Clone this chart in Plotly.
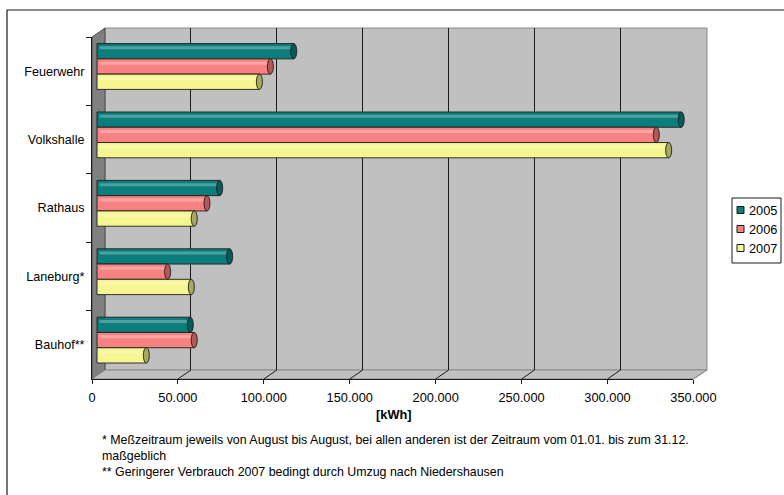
import plotly.graph_objects as go

# Energieverbrauch je Liegenschaft in kWh
categories = ["Feuerwehr", "Volkshalle", "Rathaus", "Laneburg*", "Bauhof**"]
years = ["2005", "2006", "2007"]
values_2005 = [114500, 340000, 71400, 77200, 54300]
values_2006 = [100900, 325500, 64000, 41100, 56600]
values_2007 = [94500, 332700, 56600, 54900, 28700]
series_values = [values_2005, values_2006, values_2007]

tick_vals = [0, 50000, 100000, 150000, 200000, 250000, 300000, 350000]
tick_text = ["0", "50.000", "100.000", "150.000", "200.000", "250.000", "300.000", "350.000"]

axis_title = "[kWh]"
footnotes = [
    "* Meßzeitraum jeweils von August bis August, bei allen anderen ist der Zeitraum vom 01.01. bis zum 31.12.",
    "maßgeblich",
    "** Geringerer Verbrauch 2007 bedingt durch Umzug nach Niedershausen",
]

fill_colors = ["#0b7d7d", "#f88282", "#f6f690"]
cap_colors = ["#045c5c", "#b45858", "#a8a860"]

W, H = 784, 495
FONT = "Liberation Sans, Arial, sans-serif"


def px(x):
    return x / W


def py(y):
    return 1 - y / H


# 3D frame geometry (pixels)
front_left, front_right, front_bottom, front_top = 92, 693.4, 379, 37
depth_dx, depth_dy = 13, 9
back_left, back_right = front_left + depth_dx, front_right + depth_dx + 0.6
back_top, back_bottom = front_top - depth_dy, front_bottom - depth_dy
vmax = 350000
kpx = (front_right - front_left) / vmax          # pixels per kWh
bar_shift_x, bar_shift_y = 5, 4.7                # bars sit half way into the depth
bar_origin = -bar_shift_x / kpx

bargap = 0.33
n_series = len(years)
bar_w = (1 - bargap) / n_series

fig = go.Figure()

# back wall subplot (gridlines only)
fig.add_trace(go.Scatter(x=[None], y=[None], xaxis="x", yaxis="y",
                         showlegend=False, hoverinfo="skip"))
# front axes subplot (tick labels / category labels)
fig.add_trace(go.Scatter(x=[None] * len(categories), y=categories, xaxis="x2", yaxis="y2",
                         mode="markers", marker=dict(opacity=0), showlegend=False,
                         hoverinfo="skip"))

shapes = []

# bars
for i, (name, vals) in enumerate(zip(years, series_values)):
    fig.add_trace(go.Bar(
        name=name, y=categories, x=vals, orientation="h",
        xaxis="x3", yaxis="y3",
        marker=dict(color=fill_colors[i], line=dict(color="#1e1e1e", width=0.9)),
        showlegend=False,
    ))
    cap_dx = 3 / kpx
    for j, v in enumerate(vals):
        yc = j - (1 - bargap) / 2 + (i + 0.5) * bar_w
        # light reflection along the cylinder
        shapes.append(dict(type="line", xref="x3", yref="y3",
                           x0=1500, x1=v - cap_dx, y0=yc - bar_w * 0.22, y1=yc - bar_w * 0.22,
                           line=dict(color="rgba(255,255,255,0.28)", width=3), layer="above"))
        # end cap of the cylinder
        shapes.append(dict(type="circle", xref="x3", yref="y3",
                           x0=v - cap_dx, x1=v + cap_dx, y0=yc - bar_w / 2, y1=yc + bar_w / 2,
                           fillcolor=cap_colors[i], line=dict(color="#1e1e1e", width=0.9),
                           layer="above"))

# outer chart border (left and top edges; the rest runs past the page)
shapes.append(dict(type="path", xref="paper", yref="paper",
                   path=f"M1,{py(10)} L{px(7)},{py(10)} L{px(7)},0",
                   line=dict(color="#1a1a1a", width=1.2), layer="below"))
# back wall
shapes.append(dict(type="rect", xref="paper", yref="paper",
                   x0=px(back_left), x1=px(back_right), y0=py(back_bottom), y1=py(back_top),
                   fillcolor="#c0c0c0", line=dict(color="#8a8a8a", width=1), layer="below"))
# side wall
shapes.append(dict(type="path", xref="paper", yref="paper",
                   path=f"M{px(front_left)},{py(front_top)} L{px(back_left)},{py(back_top)} "
                        f"L{px(back_left)},{py(back_bottom)} L{px(front_left)},{py(front_bottom)} Z",
                   fillcolor="#808080", line=dict(color="#3a3a3a", width=0.8), layer="below"))
# floor
shapes.append(dict(type="path", xref="paper", yref="paper",
                   path=f"M{px(front_left)},{py(front_bottom)} L{px(back_left)},{py(back_bottom)} "
                        f"L{px(back_right)},{py(back_bottom)} L{px(front_right)},{py(front_bottom)} Z",
                   fillcolor="#c0c0c0", line=dict(color="#8a8a8a", width=1), layer="below"))
# floor grid lines running into the depth
for tv in tick_vals[1:]:
    xf = front_left + tv * kpx
    col = "#8a8a8a" if tv == vmax else "#1a1a1a"
    shapes.append(dict(type="line", xref="paper", yref="paper",
                       x0=px(xf), y0=py(front_bottom), x1=px(xf + depth_dx), y1=py(back_bottom),
                       line=dict(color=col, width=1), layer="below"))

# legend box
leg_x0, leg_x1, leg_y0, leg_y1 = 732, 781, 198, 263
shapes.append(dict(type="rect", xref="paper", yref="paper",
                   x0=px(leg_x0), x1=px(leg_x1), y0=py(leg_y1), y1=py(leg_y0),
                   fillcolor="white", line=dict(color="#1a1a1a", width=1)))
annotations = []
for i, name in enumerate(years):
    yc = 210 + i * 19
    shapes.append(dict(type="rect", xref="paper", yref="paper",
                       x0=px(737), x1=px(744), y0=py(yc + 3.5), y1=py(yc - 3.5),
                       fillcolor=fill_colors[i], line=dict(color="#1a1a1a", width=1)))
    annotations.append(dict(text=name, xref="paper", yref="paper", x=px(746.5), y=py(yc),
                            xanchor="left", yanchor="middle", showarrow=False,
                            font=dict(size=12.8, color="black", family=FONT)))

annotations.append(dict(text=f"<b>{axis_title}</b>", xref="paper", yref="paper",
                        x=px(393.5), y=py(414), xanchor="center", yanchor="middle",
                        showarrow=False, font=dict(size=12.8, color="black", family=FONT)))
for k, line in enumerate(footnotes):
    annotations.append(dict(text=line, xref="paper", yref="paper",
                            x=px(99.5), y=py(440 + k * 15.8), xanchor="left", yanchor="middle",
                            showarrow=False, font=dict(size=12.4, color="black", family=FONT)))

fig.update_layout(
    width=W, height=H, autosize=False,
    margin=dict(l=0, r=0, t=0, b=0, pad=0),
    paper_bgcolor="white", plot_bgcolor="rgba(0,0,0,0)",
    font=dict(family=FONT, size=12, color="black"),
    separators=",.",
    barmode="group", bargap=bargap, bargroupgap=0,
    showlegend=False,
    shapes=shapes, annotations=annotations,
    # back wall gridlines
    xaxis=dict(domain=[px(back_left), px(back_left + vmax * kpx)], range=[0, vmax],
               tickvals=tick_vals[1:-1], showgrid=True, gridcolor="#1a1a1a", gridwidth=1,
               showticklabels=False, ticks="", zeroline=False, showline=False,
               anchor="y", fixedrange=True, automargin=False),
    yaxis=dict(domain=[py(back_bottom), py(back_top)], range=[0, 1], visible=False,
               anchor="x", fixedrange=True),
    # front axes
    xaxis2=dict(domain=[px(front_left), px(front_right)], range=[0, vmax],
                tickvals=tick_vals, ticktext=tick_text, ticks="outside", ticklen=4,
                tickcolor="#1a1a1a", showgrid=False, zeroline=False, showline=True,
                linecolor="#1a1a1a", linewidth=1, anchor="y2", automargin=False,
                ticklabelstandoff=3,
                tickfont=dict(size=12.8, family=FONT, color="black"), fixedrange=True),
    yaxis2=dict(domain=[py(front_bottom), py(front_top)], type="category",
                categoryorder="array", categoryarray=categories, range=[len(categories) - 0.5, -0.5],
                tickson="boundaries", ticks="outside", ticklen=5, tickcolor="#1a1a1a",
                showgrid=False, zeroline=False, showline=True, linecolor="#1a1a1a", linewidth=1,
                anchor="x2", automargin=False, ticklabelstandoff=4,
                tickfont=dict(size=12.6, family=FONT, color="black"), fixedrange=True),
    # bars
    xaxis3=dict(domain=[px(front_left), px(front_right)], range=[bar_origin, bar_origin + vmax],
                visible=False, anchor="y3", fixedrange=True),
    yaxis3=dict(domain=[py(front_bottom - bar_shift_y), py(front_top - bar_shift_y)],
                type="category", categoryorder="array", categoryarray=categories,
                range=[len(categories) - 0.5, -0.5], visible=False, anchor="x3", fixedrange=True),
)

fig.write_html("out.html", config={"responsive": False, "displayModeBar": False})
